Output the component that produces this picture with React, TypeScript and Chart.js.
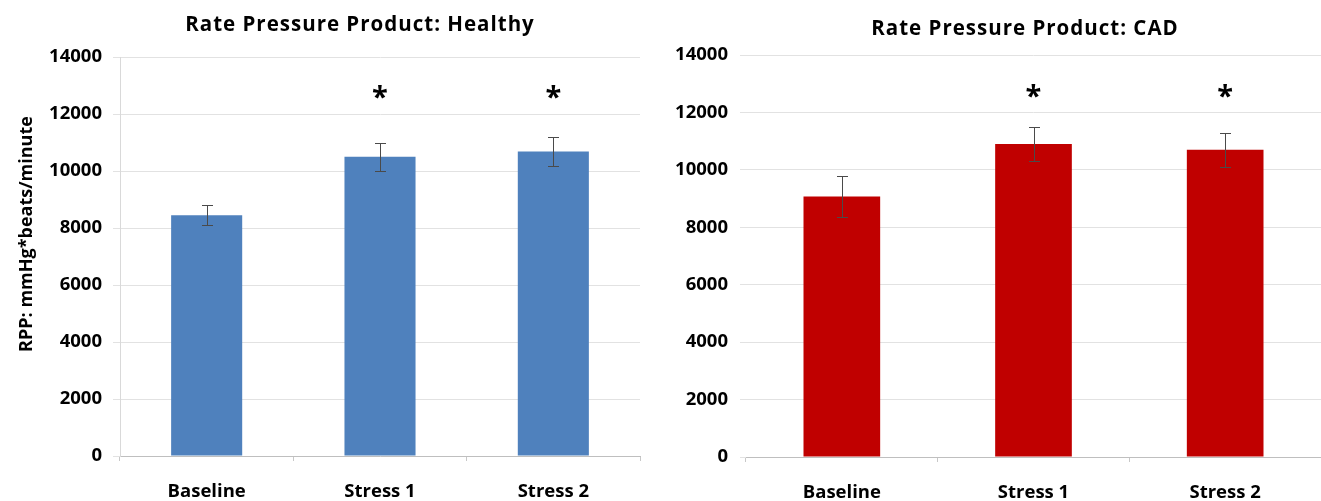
import React, { useEffect, useRef } from "react";
import { Chart, registerables } from "chart.js";

Chart.register(...registerables);

const categories = ["Baseline", "Stress 1", "Stress 2"];
const healthyValues = [8450, 10500, 10680];
const healthyErrors = [350, 500, 510];
const cadValues = [9070, 10900, 10700];
const cadErrors = [700, 580, 600];
const significant = [false, true, true];
const asteriskLevel = 12700;
const yTickLabels = ["0", "2000", "4000", "6000", "8000", "10000", "12000", "14000"];
const yMin = 0;
const yMax = 14000;
const yStep = 2000;

const FONT = "'Open Sans', Lato, sans-serif";

type Cfg = {
  title: string;
  values: number[];
  errors: number[];
  color: string;
  barPct: number;
  left: number;
  width: number;
  yAxisWidth: number;
  padRight: number;
  padTop: number;
  xAxisHeight: number;
  titleX: number;
  titleY: number;
  showYBorder: boolean;
  yTitle?: string;
  yTickLen: number;
  yTickPad: number;
};

function RppChart({ cfg }: { cfg: Cfg }) {
  const ref = useRef<HTMLCanvasElement | null>(null);
  useEffect(() => {
    if (!ref.current) return;
    const overlay = {
      id: "overlay",
      afterDatasetsDraw(chart: any) {
        const { ctx } = chart;
        const y = chart.scales.y;
        const meta = chart.getDatasetMeta(0);
        ctx.save();
        ctx.strokeStyle = "#4a4a4a";
        ctx.lineWidth = 1;
        meta.data.forEach((bar: any, i: number) => {
          const cx = Math.round(bar.x) + 0.5;
          const top = Math.round(y.getPixelForValue(cfg.values[i] + cfg.errors[i])) + 0.5;
          const bot = Math.round(y.getPixelForValue(cfg.values[i] - cfg.errors[i])) + 0.5;
          ctx.beginPath();
          ctx.moveTo(cx, top);
          ctx.lineTo(cx, bot);
          ctx.moveTo(cx - 5.5, top);
          ctx.lineTo(cx + 5.5, top);
          ctx.moveTo(cx - 5.5, bot);
          ctx.lineTo(cx + 5.5, bot);
          ctx.stroke();
          if (significant[i]) {
            ctx.fillStyle = "#000";
            ctx.font = `bold 29px ${FONT}`;
            ctx.textAlign = "center";
            ctx.textBaseline = "middle";
            ctx.fillText("*", bar.x, y.getPixelForValue(asteriskLevel) + 5);
          }
        });
        ctx.restore();
      },
      afterDraw(chart: any) {
        const { ctx } = chart;
        ctx.save();
        ctx.fillStyle = "#000";
        ctx.font = `bold 20.5px ${FONT}`;
        (ctx as any).letterSpacing = "1px";
        ctx.textAlign = "center";
        ctx.textBaseline = "alphabetic";
        ctx.fillText(cfg.title, cfg.titleX, cfg.titleY);
        (ctx as any).letterSpacing = "0px";
        if (cfg.yTitle) {
          ctx.translate(32, 234);
          ctx.rotate(-Math.PI / 2);
          ctx.font = `bold 18px ${FONT}`;
          ctx.fillText(cfg.yTitle, 0, 0);
        }
        ctx.restore();
      },
    };
    const chart = new Chart(ref.current, {
      type: "bar",
      data: {
        labels: categories,
        datasets: [
          {
            data: cfg.values,
            backgroundColor: cfg.color,
            borderWidth: 0,
            barPercentage: cfg.barPct,
            categoryPercentage: 1,
          },
        ],
      },
      options: {
        animation: false,
        responsive: false,
        maintainAspectRatio: false,
        devicePixelRatio: 1,
        layout: { padding: { top: cfg.padTop, right: cfg.padRight, left: 0, bottom: 0 } },
        plugins: {
          legend: { display: false },
          title: { display: false },
          tooltip: { enabled: false },
        },
        scales: {
          x: {
            type: "category",
            offset: true,
            grid: {
              display: true,
              drawOnChartArea: false,
              offset: true,
              tickLength: 5,
              color: "#c8c8c8",
            },
            border: { display: true, color: "#bfbfbf" },
            ticks: {
              color: "#000",
              font: { family: FONT, size: 18.5, weight: "bold" },
              padding: 20,
              maxRotation: 0,
            },
            afterFit: (s: any) => {
              s.height = cfg.xAxisHeight;
            },
          },
          y: {
            min: yMin,
            max: yMax,
            ticks: {
              stepSize: yStep,
              color: "#000",
              font: { family: FONT, size: 18.5, weight: "bold" },
              padding: cfg.yTickPad,
              callback: (_v: any, i: number) => yTickLabels[i],
            },
            grid: { color: "#e2e2e2", tickLength: cfg.yTickLen, drawTicks: true },
            border: { display: cfg.showYBorder, color: "#d9d9d9" },
            afterFit: (s: any) => {
              s.width = cfg.yAxisWidth;
            },
          },
        },
      } as any,
      plugins: [overlay],
    });
    return () => chart.destroy();
  }, [cfg]);
  return (
    <canvas
      ref={ref}
      width={cfg.width}
      height={501}
      style={{ position: "absolute", left: cfg.left, top: 0, width: cfg.width, height: 501 }}
    />
  );
}

const leftCfg: Cfg = {
  title: "Rate Pressure Product: Healthy",
  values: healthyValues,
  errors: healthyErrors,
  color: "#4F81BD",
  barPct: 0.41,
  left: 0,
  width: 660,
  yAxisWidth: 120,
  padRight: 20,
  padTop: 57,
  xAxisHeight: 45,
  titleX: 360,
  titleY: 31,
  showYBorder: true,
  yTitle: "RPP: mmHg*beats/minute",
  yTickLen: 7,
  yTickPad: 11,
};

const rightCfg: Cfg = {
  title: "Rate Pressure Product: CAD",
  values: cadValues,
  errors: cadErrors,
  color: "#C00000",
  barPct: 0.4,
  left: 660,
  width: 661,
  yAxisWidth: 86,
  padRight: 0,
  padTop: 55,
  xAxisHeight: 44,
  titleX: 365,
  titleY: 35,
  showYBorder: false,
  yTickLen: 6,
  yTickPad: 12,
};

export default function App() {
  return (
    <div
      style={{
        position: "fixed",
        left: 0,
        top: 0,
        width: 1321,
        height: 501,
        overflow: "hidden",
        background: "#fff",
      }}
    >
      <RppChart cfg={leftCfg} />
      <RppChart cfg={rightCfg} />
    </div>
  );
}
